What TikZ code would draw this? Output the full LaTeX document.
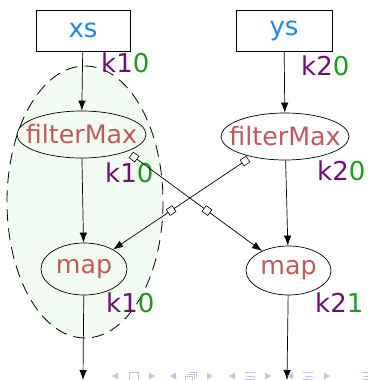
\documentclass[tikz,border=0pt]{standalone}
\usepackage{fontspec}
\setmainfont{DejaVu Sans}
\usetikzlibrary{shapes.geometric,arrows.meta}
\definecolor{xblue}{HTML}{1E88F0}
\definecolor{fred}{HTML}{C05A5A}
\definecolor{kpur}{HTML}{6E1070}
\definecolor{kgrn}{HTML}{1E9A1E}
\definecolor{navc}{HTML}{C4C4E4}
\definecolor{pale}{HTML}{F2FCF2}
\begin{document}
\begin{tikzpicture}[x=1pt,y=-1pt,
  every node/.style={font=\fontsize{26}{31}\selectfont},
  src/.style={draw, line width=0.8pt, rectangle, minimum width=94pt, minimum height=41pt, inner sep=0pt, text=xblue},
  op/.style={draw, ellipse, inner sep=0pt, line width=0.7pt},
  optext/.style={text=fred, inner sep=0pt, font=\fontsize{25.3}{30}\selectfont},
  arr/.style={-{Latex[length=10pt,width=7.5pt]}, line width=0.7pt},
  sq/.style={draw, fill=white, rectangle, minimum size=7pt, inner sep=0pt, line width=0.6pt, sloped},
  lbl/.style={anchor=base west, inner sep=0pt},
  navf/.style={fill=navc, draw=none},
  navd/.style={draw=navc, line width=1pt}]
\useasboundingbox (0,0) rectangle (367,380);
% cluster
\fill[pale] (85,202) ellipse [x radius=78, y radius=136];
\draw[dash pattern=on 12pt off 7pt, line width=0.8pt] (85,202) ellipse [x radius=78, y radius=136];
% nodes
\node[src] (xs) at (83,30.5) {xs};
\node[src, minimum width=96pt] (ys) at (284,30.5) {ys};
\node[op, minimum width=129pt, minimum height=47pt, label={[optext]center:filterMax}] (fl) at (81.5,134.5) {};
\node[op, minimum width=128pt, minimum height=47pt, label={[optext]center:filterMax}] (fr) at (285,136.5) {};
\node[op, minimum width=86pt, minimum height=52pt, label={[optext]center:map}] (ml) at (84,269) {};
\node[op, minimum width=85pt, minimum height=49pt, label={[optext]center:map}] (mr) at (288.5,270.5) {};
% labels
\node[lbl] (la) at (101,72) {\textcolor{kpur}{k1}\textcolor{kgrn}{0}};
\node[lbl] (lb) at (301,75) {\textcolor{kpur}{k2}\textcolor{kgrn}{0}};
\node[lbl] (lc) at (105,182) {\textcolor{kpur}{k1}\textcolor{kgrn}{0}};
\node[lbl] (ld) at (317,180) {\textcolor{kpur}{k2}\textcolor{kgrn}{0}};
\node[lbl] (le) at (106,312) {\textcolor{kpur}{k1}\textcolor{kgrn}{0}};
\node[lbl] (lf) at (315,312) {\textcolor{kpur}{k2}\textcolor{kgrn}{1}};
% edges
\coordinate (e1) at (83,380);
\coordinate (e2) at (287,380);
\coordinate (s1) at (134,157);
\coordinate (s2) at (245,161);
\draw[arr] (xs) -- (fl);
\draw[arr] (ys) -- (fr);
\draw[arr] (fl) -- (ml);
\draw[arr] (fr) -- (mr);
\draw[arr] (ml) -- (e1);
\draw[arr] (mr) -- (e2);
\draw[arr] (s1) -- node[sq,pos=0]{} node[sq,pos=0.57]{} (mr);
\draw[arr] (s2) -- node[sq,pos=0]{} node[sq,pos=0.56]{} (ml);
% navigation symbols
\fill[navf] (112,376) -- (118,372.5) -- (118,379.5) -- cycle;
\draw[navd] (129,372.5) rectangle (138,381);
\fill[navf] (155,376) -- (149,372.5) -- (149,379.5) -- cycle;
\fill[navf] (170,376) -- (176,372.5) -- (176,379.5) -- cycle;
\draw[navd] (185,376) rectangle (192,381);
\draw[navd] (187,374) -- (194,374) -- (194,379);
\draw[navd] (189,372) -- (196,372) -- (196,377);
\fill[navf] (213,376) -- (207,372.5) -- (207,379.5) -- cycle;
\fill[navf] (229,376) -- (235,372.5) -- (235,379.5) -- cycle;
\draw[navd] (245,372.5) -- (255,372.5) (247,376) -- (255,376) (245,379.5) -- (255,379.5);
\fill[navf] (271,376) -- (265,372.5) -- (265,379.5) -- cycle;
\fill[navf] (287,376) -- (293,372.5) -- (293,379.5) -- cycle;
\draw[navd] (303,372.5) -- (313,372.5) (305,376) -- (313,376) (303,379.5) -- (313,379.5);
\fill[navf] (330,376) -- (324,372.5) -- (324,379.5) -- cycle;
\draw[navd] (362,372.5) -- (368,372.5) (363,376) -- (368,376) (362,379.5) -- (368,379.5);
\end{tikzpicture}
\end{document}
